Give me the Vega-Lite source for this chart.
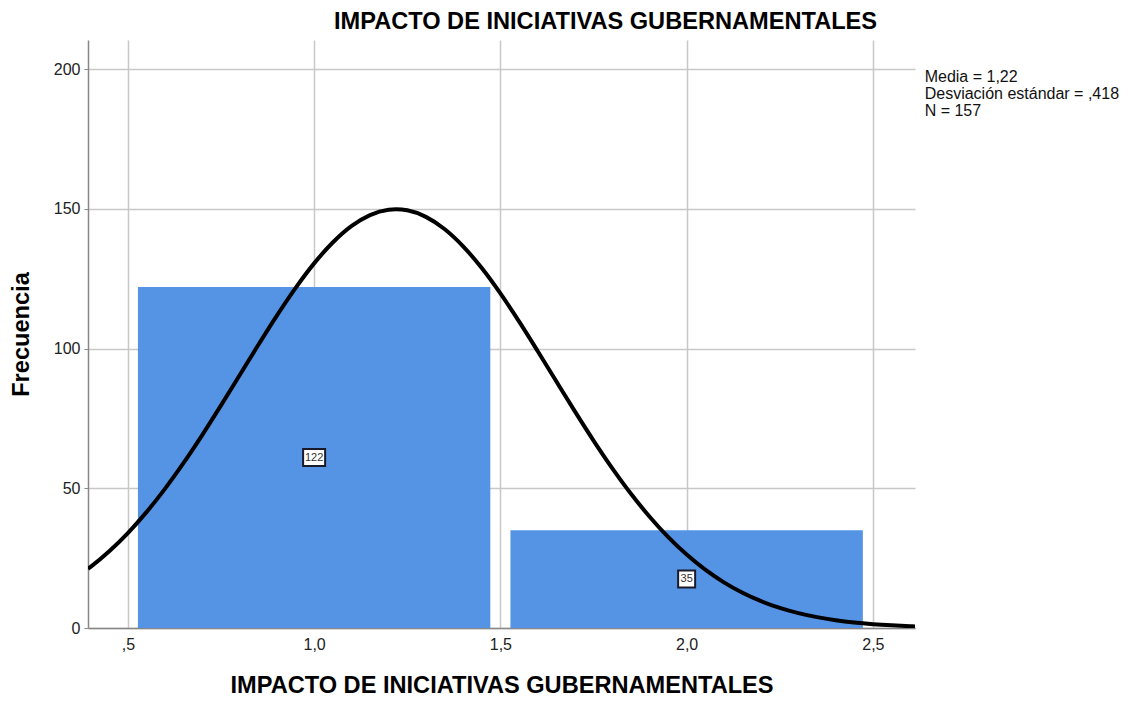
{
  "$schema": "https://vega.github.io/schema/vega-lite/v6.json",
  "width": 827,
  "height": 588,
  "autosize": {"type": "none"},
  "padding": {"left": 88, "top": 40, "right": 214, "bottom": 76},
  "background": "white",
  "config": {
    "font": "Liberation Sans",
    "view": {"stroke": null},
    "axis": {"labelFont": "Liberation Sans", "titleFont": "Liberation Sans", "labelColor": "#222", "titleColor": "#000"}
  },
  "title": {
    "text": "IMPACTO DE INICIATIVAS GUBERNAMENTALES",
    "fontSize": 23.6,
    "fontWeight": "bold",
    "font": "Liberation Sans",
    "color": "#000",
    "anchor": "middle",
    "dx": 104,
    "offset": 6
  },
  "datasets": {
    "bars": [
      {"x0": 0.527, "x1": 1.473, "count": 122, "mid": 1.0},
      {"x0": 1.527, "x1": 2.473, "count": 35, "mid": 2.0}
    ],
    "curve": [
      {"x": 0.393, "y": 21.17}, {"x": 0.40, "y": 21.88}, {"x": 0.45, "y": 27.47}, {"x": 0.50, "y": 33.98},
      {"x": 0.55, "y": 41.46}, {"x": 0.60, "y": 49.88}, {"x": 0.65, "y": 59.14}, {"x": 0.70, "y": 69.12},
      {"x": 0.75, "y": 79.64}, {"x": 0.80, "y": 90.44}, {"x": 0.85, "y": 101.26}, {"x": 0.90, "y": 111.78},
      {"x": 0.95, "y": 121.63}, {"x": 1.00, "y": 130.47}, {"x": 1.05, "y": 137.94}, {"x": 1.10, "y": 143.79},
      {"x": 1.15, "y": 147.76}, {"x": 1.20, "y": 149.67}, {"x": 1.22, "y": 149.84}, {"x": 1.25, "y": 149.45},
      {"x": 1.30, "y": 147.12}, {"x": 1.35, "y": 142.77}, {"x": 1.40, "y": 136.57}, {"x": 1.45, "y": 128.79},
      {"x": 1.50, "y": 119.72}, {"x": 1.55, "y": 109.72}, {"x": 1.60, "y": 99.12}, {"x": 1.65, "y": 88.27},
      {"x": 1.70, "y": 77.50}, {"x": 1.75, "y": 67.07}, {"x": 1.80, "y": 57.22}, {"x": 1.85, "y": 48.12},
      {"x": 1.90, "y": 39.90}, {"x": 1.95, "y": 32.61}, {"x": 2.00, "y": 26.28}, {"x": 2.05, "y": 20.87},
      {"x": 2.10, "y": 16.34}, {"x": 2.15, "y": 12.61}, {"x": 2.20, "y": 9.59}, {"x": 2.25, "y": 7.20},
      {"x": 2.30, "y": 5.32}, {"x": 2.35, "y": 3.88}, {"x": 2.40, "y": 2.79}, {"x": 2.45, "y": 1.97},
      {"x": 2.50, "y": 1.38}, {"x": 2.55, "y": 0.95}, {"x": 2.60, "y": 0.64}, {"x": 2.613, "y": 0.58}
    ],
    "stats": [
      {"x": 2.639, "y": 197.1, "t": "Media = 1,22"},
      {"x": 2.639, "y": 191.0, "t": "Desviación estándar = ,418"},
      {"x": 2.639, "y": 184.9, "t": "N = 157"}
    ]
  },
  "layer": [
    {
      "data": {"name": "bars"},
      "mark": {"type": "rect", "color": "#5594e5"},
      "encoding": {
        "x": {
          "field": "x0", "type": "quantitative",
          "scale": {"domain": [0.393, 2.613], "nice": false, "zero": false},
          "axis": {
            "title": "IMPACTO DE INICIATIVAS GUBERNAMENTALES",
            "titleFontSize": 23.6, "titleFontWeight": "bold", "titlePadding": 21,
            "values": [0.5, 1.0, 1.5, 2.0, 2.5],
            "labelExpr": "datum.value == 0.5 ? ',5' : replace(format(datum.value, '.1f'), '.', ',')",
            "labelFontSize": 16, "labelPadding": 8,
            "ticks": false,
            "grid": true, "gridColor": "#c8c8c8", "gridWidth": 1.5,
            "domainColor": "#888", "domainWidth": 1.5
          }
        },
        "x2": {"field": "x1"},
        "y": {
          "field": "count", "type": "quantitative",
          "scale": {"domain": [0, 210.4], "nice": false},
          "axis": {
            "title": "Frecuencia",
            "titleFontSize": 23.6, "titleFontWeight": "bold", "titlePadding": 20,
            "values": [0, 50, 100, 150, 200],
            "labelFontSize": 16, "labelPadding": 4,
            "tickSize": 4, "tickColor": "#888",
            "grid": true, "gridColor": "#c8c8c8", "gridWidth": 1.5,
            "domainColor": "#888", "domainWidth": 1.5
          }
        },
        "y2": {"datum": 0}
      }
    },
    {
      "data": {"name": "curve"},
      "mark": {"type": "line", "color": "#000", "strokeWidth": 4, "clip": true, "interpolate": "monotone"},
      "encoding": {
        "x": {"field": "x", "type": "quantitative"},
        "y": {"field": "y", "type": "quantitative"}
      }
    },
    {
      "data": {"name": "bars"},
      "transform": [{"calculate": "datum.count / 2", "as": "half"}],
      "mark": {"type": "point", "filled": true, "fill": "white", "stroke": "#1a1a2a", "strokeWidth": 2, "opacity": 1},
      "encoding": {
        "x": {"field": "mid", "type": "quantitative"},
        "y": {"field": "half", "type": "quantitative"},
        "shape": {"condition": {"test": "datum.count > 99", "value": "M-1,-0.77H1V0.77H-1Z"}, "value": "square"},
        "size": {"condition": {"test": "datum.count > 99", "value": 484}, "value": 289}
      }
    },
    {
      "data": {"name": "bars"},
      "transform": [{"calculate": "datum.count / 2", "as": "half"}],
      "mark": {"type": "text", "fontSize": 11, "color": "#333", "align": "center", "baseline": "middle"},
      "encoding": {
        "x": {"field": "mid", "type": "quantitative"},
        "y": {"field": "half", "type": "quantitative"},
        "text": {"field": "count", "type": "quantitative"}
      }
    },
    {
      "data": {"name": "stats"},
      "mark": {"type": "text", "fontSize": 16, "color": "#111", "align": "left", "baseline": "middle", "clip": false},
      "encoding": {
        "x": {"field": "x", "type": "quantitative"},
        "y": {"field": "y", "type": "quantitative"},
        "text": {"field": "t", "type": "nominal"}
      }
    }
  ]
}
